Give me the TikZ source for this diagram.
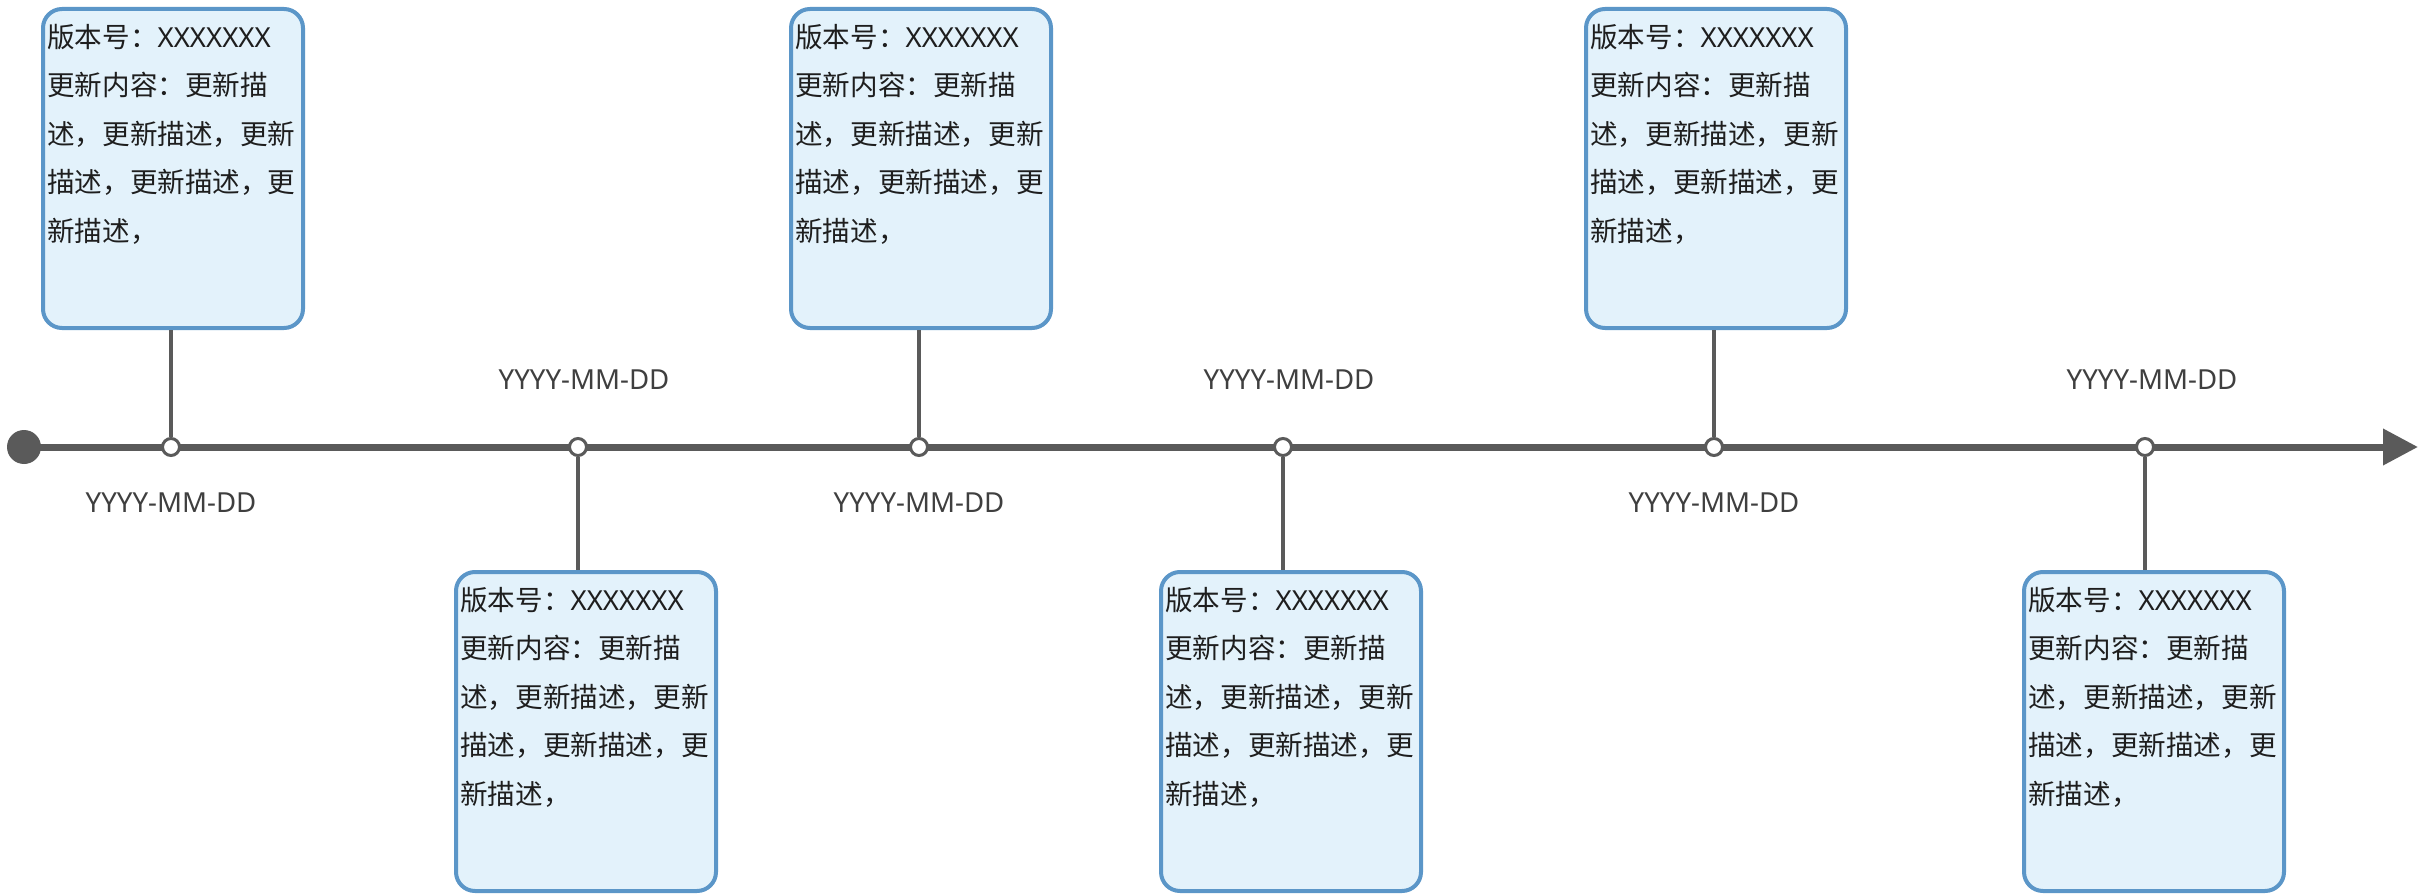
\documentclass[tikz,border=0pt]{standalone}
\usepackage{fontspec}
\setmainfont{Noto Sans CJK SC}
\newfontfamily\latinf{Noto Sans}
\usetikzlibrary{arrows.meta}
\definecolor{lineg}{HTML}{5A5A5A}
\definecolor{bordb}{HTML}{5B96C8}
\definecolor{fillb}{HTML}{E3F2FB}
\definecolor{txtc}{HTML}{1E1E1E}
\definecolor{datec}{HTML}{3F3F3F}
\newcommand{\boxtext}{\strut 版本号：{\latinf XXXXXXX}\\更新内容：更新描\\述，更新描述，更新\\描述，更新描述，更\\新描述，}
\begin{document}
\begin{tikzpicture}[x=1pt,y=-1pt,
  card/.style={draw=bordb, fill=fillb, line width=4pt, rounded corners=19pt,
    minimum width=260pt, minimum height=319pt, inner sep=0pt, anchor=north west},
  cardtext/.style={anchor=north west, inner sep=0pt, align=left, text=txtc,
    font=\fontsize{27.6pt}{48.5pt}\selectfont},
  datelabel/.style={inner sep=0pt, text=datec, font=\latinf\fontsize{27.6pt}{33pt}\selectfont},
  tickdot/.style={circle, draw=lineg, fill=white, line width=3pt, minimum size=17pt, inner sep=0pt},
  startdot/.style={circle, fill=lineg, minimum size=34pt, inner sep=0pt},
  mainline/.style={draw=lineg, line width=7pt, -{Triangle[length=35pt,width=35pt]}},
  conn/.style={draw=lineg, line width=3.5pt}
]
\useasboundingbox (0,0) rectangle (2421,896);
% timeline
\coordinate (tip) at (2418,447);
\node[startdot] (s) at (24,447) {};
\draw[mainline] (s.center) -- (tip);
% upper cards
\foreach \i/\bx/\tx in {1/41/171, 3/789/919, 5/1584/1714}{
  \node[card] (b\i) at (\bx,7) {};
  \node[cardtext] (t\i) at (\bx+6,13) {\boxtext};
  \node[tickdot] (c\i) at (\tx,447) {};
  \node[datelabel] (d\i) at (\bx+130,503) {YYYY-MM-DD};
  \draw[conn] (b\i.south -| c\i) -- (c\i.north);
}
% lower cards
\foreach \i/\bx/\tx in {2/454/578, 4/1159/1283, 6/2022/2145}{
  \node[card] (b\i) at (\bx,570) {};
  \node[cardtext] (t\i) at (\bx+6,576) {\boxtext};
  \node[tickdot] (c\i) at (\tx,447) {};
  \node[datelabel] (d\i) at (\bx+130,380) {YYYY-MM-DD};
  \draw[conn] (c\i.south) -- (c\i |- b\i.north);
}
\end{tikzpicture}
\end{document}
